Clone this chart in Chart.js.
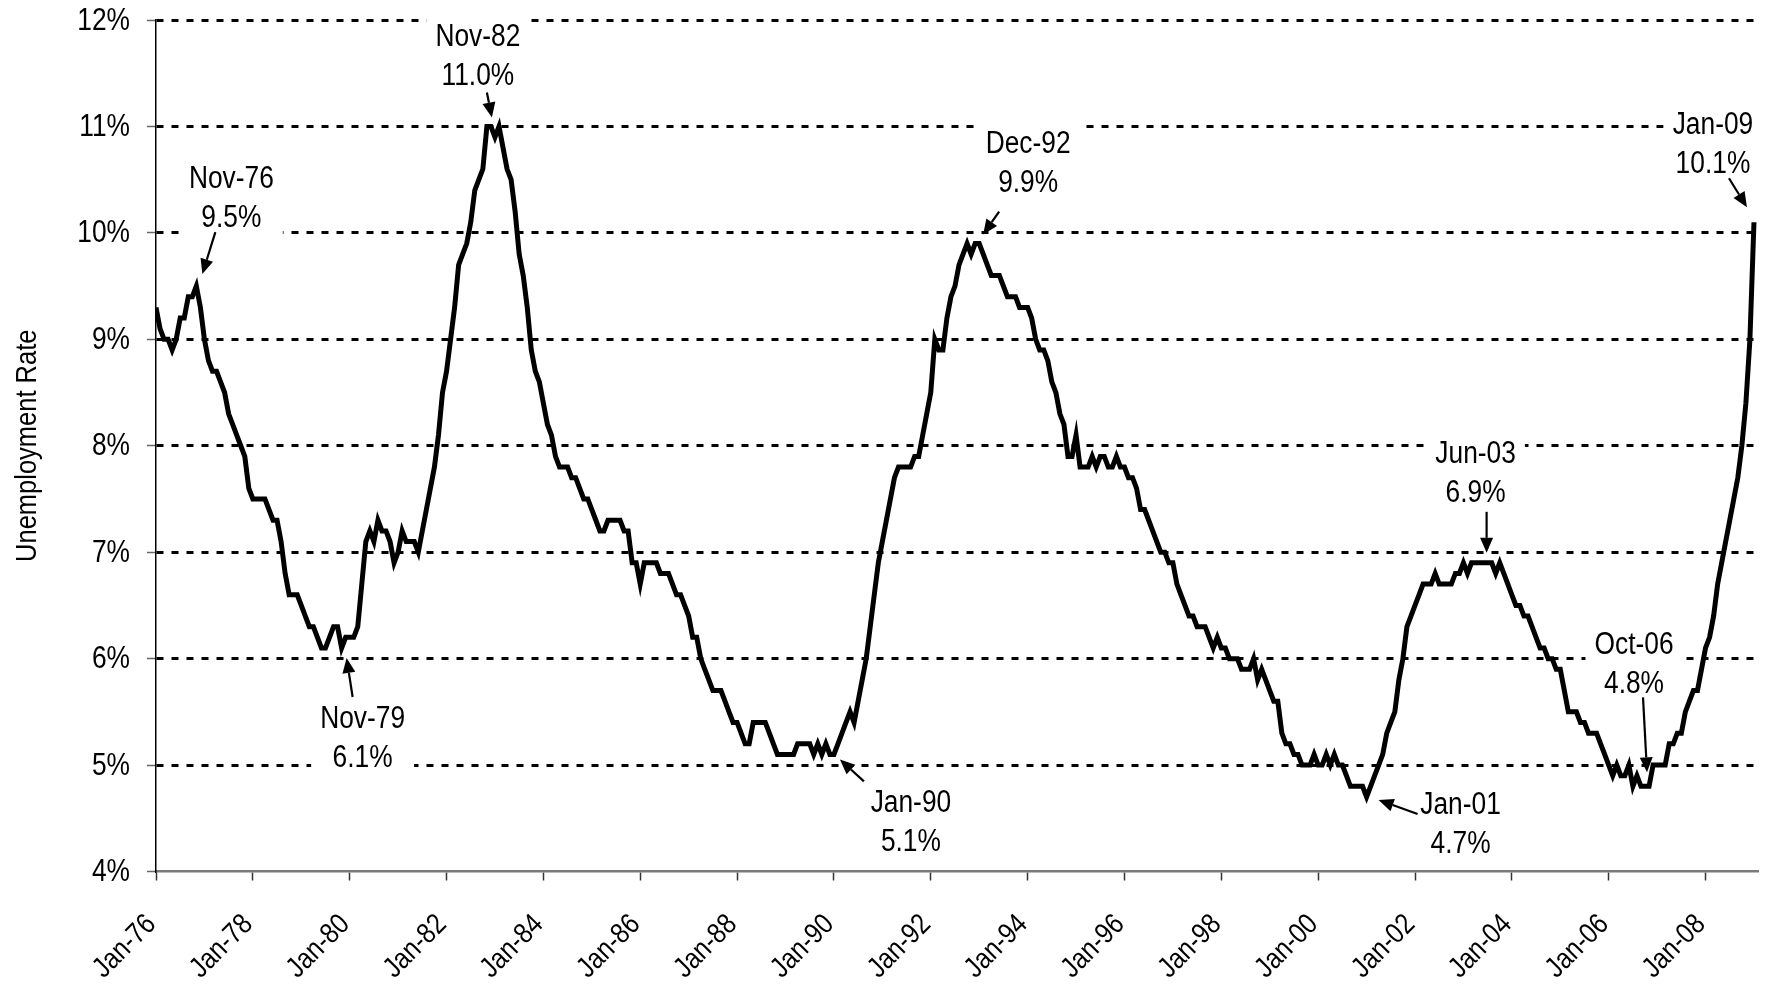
<!DOCTYPE html>
<html>
<head>
<meta charset="utf-8">
<script src="https://cdn.jsdelivr.net/npm/chart.js@4.4.1/dist/chart.umd.min.js"></script>
<style>
  html, body { margin: 0; padding: 0; background: #fff; }
</style>
</head>
<body>
<canvas id="chart" width="1767" height="985"></canvas>
<script>
// monthly unemployment rate, Jan-76 .. Jan-09 (one row per year)
const rate = [
  9.3, 9.1, 9.0, 9.0, 8.9, 9.0, 9.2, 9.2, 9.4, 9.4, 9.5, 9.3,       // 1976
  9.0, 8.8, 8.7, 8.7, 8.6, 8.5, 8.3, 8.2, 8.1, 8.0, 7.9, 7.6,       // 1977
  7.5, 7.5, 7.5, 7.5, 7.4, 7.3, 7.3, 7.1, 6.8, 6.6, 6.6, 6.6,       // 1978
  6.5, 6.4, 6.3, 6.3, 6.2, 6.1, 6.1, 6.2, 6.3, 6.3, 6.1, 6.2,       // 1979
  6.2, 6.2, 6.3, 6.7, 7.1, 7.2, 7.1, 7.3, 7.2, 7.2, 7.1, 6.9,       // 1980
  7.0, 7.2, 7.1, 7.1, 7.1, 7.0, 7.2, 7.4, 7.6, 7.8, 8.1, 8.5,       // 1981
  8.7, 9.0, 9.3, 9.7, 9.8, 9.9, 10.1, 10.4, 10.5, 10.6, 11.0, 11.0, // 1982
  10.9, 11.0, 10.8, 10.6, 10.5, 10.2, 9.8, 9.6, 9.3, 8.9, 8.7, 8.6, // 1983
  8.4, 8.2, 8.1, 7.9, 7.8, 7.8, 7.8, 7.7, 7.7, 7.6, 7.5, 7.5,       // 1984
  7.4, 7.3, 7.2, 7.2, 7.3, 7.3, 7.3, 7.3, 7.2, 7.2, 6.9, 6.9,       // 1985
  6.7, 6.9, 6.9, 6.9, 6.9, 6.8, 6.8, 6.8, 6.7, 6.6, 6.6, 6.5,       // 1986
  6.4, 6.2, 6.2, 6.0, 5.9, 5.8, 5.7, 5.7, 5.7, 5.6, 5.5, 5.4,       // 1987
  5.4, 5.3, 5.2, 5.2, 5.4, 5.4, 5.4, 5.4, 5.3, 5.2, 5.1, 5.1,       // 1988
  5.1, 5.1, 5.1, 5.2, 5.2, 5.2, 5.2, 5.1, 5.2, 5.1, 5.2, 5.1,       // 1989
  5.1, 5.2, 5.3, 5.4, 5.5, 5.4, 5.6, 5.8, 6.0, 6.3, 6.6, 6.9,       // 1990
  7.1, 7.3, 7.5, 7.7, 7.8, 7.8, 7.8, 7.8, 7.9, 7.9, 8.1, 8.3,       // 1991
  8.5, 9.0, 8.9, 8.9, 9.2, 9.4, 9.5, 9.7, 9.8, 9.9, 9.8, 9.9,       // 1992
  9.9, 9.8, 9.7, 9.6, 9.6, 9.6, 9.5, 9.4, 9.4, 9.4, 9.3, 9.3,       // 1993
  9.3, 9.2, 9.0, 8.9, 8.9, 8.8, 8.6, 8.5, 8.3, 8.2, 7.9, 7.9,       // 1994
  8.1, 7.8, 7.8, 7.8, 7.9, 7.8, 7.9, 7.9, 7.8, 7.8, 7.9, 7.8,       // 1995
  7.8, 7.7, 7.7, 7.6, 7.4, 7.4, 7.3, 7.2, 7.1, 7.0, 7.0, 6.9,       // 1996
  6.9, 6.7, 6.6, 6.5, 6.4, 6.4, 6.3, 6.3, 6.3, 6.2, 6.1, 6.2,       // 1997
  6.1, 6.1, 6.0, 6.0, 6.0, 5.9, 5.9, 5.9, 6.0, 5.8, 5.9, 5.8,       // 1998
  5.7, 5.6, 5.6, 5.3, 5.2, 5.2, 5.1, 5.1, 5.0, 5.0, 5.0, 5.1,       // 1999
  5.0, 5.0, 5.1, 5.0, 5.1, 5.0, 5.0, 4.9, 4.8, 4.8, 4.8, 4.8,       // 2000
  4.7, 4.8, 4.9, 5.0, 5.1, 5.3, 5.4, 5.5, 5.8, 6.0, 6.3, 6.4,       // 2001
  6.5, 6.6, 6.7, 6.7, 6.7, 6.8, 6.7, 6.7, 6.7, 6.7, 6.8, 6.8,       // 2002
  6.9, 6.8, 6.9, 6.9, 6.9, 6.9, 6.9, 6.9, 6.8, 6.9, 6.8, 6.7,       // 2003
  6.6, 6.5, 6.5, 6.4, 6.4, 6.3, 6.2, 6.1, 6.1, 6.0, 6.0, 5.9,       // 2004
  5.9, 5.7, 5.5, 5.5, 5.5, 5.4, 5.4, 5.3, 5.3, 5.3, 5.2, 5.1,       // 2005
  5.0, 4.9, 5.0, 4.9, 4.9, 5.0, 4.8, 4.9, 4.8, 4.8, 4.8, 5.0,       // 2006
  5.0, 5.0, 5.0, 5.2, 5.2, 5.3, 5.3, 5.5, 5.6, 5.7, 5.7, 5.9,       // 2007
  6.1, 6.2, 6.4, 6.7, 6.9, 7.1, 7.3, 7.5, 7.7, 8.0, 8.4, 9.0,       // 2008
  10.1                                                              // 2009
];

const monthNames = ['Jan', 'Feb', 'Mar', 'Apr', 'May', 'Jun', 'Jul', 'Aug', 'Sep', 'Oct', 'Nov', 'Dec'];
const years = ['76', '77', '78', '79', '80', '81', '82', '83', '84', '85', '86', '87', '88', '89', '90', '91', '92',
               '93', '94', '95', '96', '97', '98', '99', '00', '01', '02', '03', '04', '05', '06', '07', '08', '09'];

// month labels, one per value
const months = [];
years.forEach(yy => monthNames.forEach(mm => months.push(mm + '-' + yy)));
months.length = rate.length;

// y axis tick values
const yTicks = [4, 5, 6, 7, 8, 9, 10, 11, 12];
const yTitle = 'Unemployment Rate';

// labelled highs and lows
const calloutMonths = ['Nov-76', 'Nov-79', 'Nov-82', 'Jan-90', 'Dec-92', 'Jan-01', 'Jun-03', 'Oct-06', 'Jan-09'];
const calloutValues = [9.5, 6.1, 11.0, 5.1, 9.9, 4.7, 6.9, 4.8, 10.1];

// where each callout sits relative to its point (pixels)
const calloutLayout = [
  { tip: [6, -12], tail: [19, -54], text: [35, -107] },
  { tip: [5, 10], tail: [11, 49], text: [21, 71] },
  { tip: [5, -9], tail: [0, -34], text: [-9, -89] },
  { tip: [6, 5], tail: [30, 27], text: [77, 49] },
  { tip: [8, -9], tail: [24, -32], text: [53, -99] },
  { tip: [12, 3], tail: [51, 17], text: [94, 8] },
  { tip: [3, -10], tail: [3, -51], text: [-8, -108] },
  { tip: [2, -14], tail: [-2, -89], text: [-11, -141] },
  { tip: [-7, -15], tail: [-25, -44], text: [-41, -97] }
];

// Liberation Sans squeezed sideways to look like the condensed face of the original
const FONT = '"Liberation Sans", Arial, sans-serif';
const NARROW = 0.85;
Chart.defaults.font.family = FONT;
Chart.defaults.color = '#000';

function narrowText(ctx, text, x, y, align, rot, size) {
  ctx.save();
  ctx.translate(x, y);
  if (rot) ctx.rotate(rot);
  ctx.scale(NARROW, 1);
  ctx.font = size + 'px ' + FONT;
  ctx.fillStyle = '#000';
  ctx.textAlign = align;
  ctx.textBaseline = 'middle';
  ctx.fillText(text, 0, 0);
  ctx.restore();
}

function drawArrow(ctx, x0, y0, x1, y1) {
  const ang = Math.atan2(y1 - y0, x1 - x0);
  const head = 15, half = 6.5;
  const bx = x1 - head * Math.cos(ang), by = y1 - head * Math.sin(ang);
  ctx.strokeStyle = '#000';
  ctx.lineWidth = 2.2;
  ctx.beginPath();
  ctx.moveTo(x0, y0);
  ctx.lineTo(bx, by);
  ctx.stroke();
  ctx.fillStyle = '#000';
  ctx.beginPath();
  ctx.moveTo(x1, y1);
  ctx.lineTo(bx + half * Math.sin(ang), by - half * Math.cos(ang));
  ctx.lineTo(bx - half * Math.sin(ang), by + half * Math.cos(ang));
  ctx.closePath();
  ctx.fill();
}

// axis labels and title, placed from the scales
const axisTextPlugin = {
  id: 'axisText',
  afterDraw(chart) {
    const { ctx, chartArea, scales: { x, y } } = chart;
    yTicks.forEach(v => narrowText(ctx, v + '%', x.left - 26, y.getPixelForValue(v) + 1, 'right', 0, 31));
    x.ticks.forEach(t => narrowText(ctx, months[t.value], x.getPixelForValue(t.value) - 4.5, x.top + 48.5,
      'right', -Math.PI / 4, 29));
    narrowText(ctx, yTitle, 28, (chartArea.top + chartArea.bottom) / 2, 'center', -Math.PI / 2, 30);
  }
};

const calloutPlugin = {
  id: 'callouts',
  afterDatasetsDraw(chart) {
    const { ctx, scales: { x, y } } = chart;
    ctx.save();
    ctx.font = '31px ' + FONT;
    calloutMonths.forEach((m, i) => {
      const px = x.getPixelForValue(months.indexOf(m));
      const py = y.getPixelForValue(calloutValues[i]);
      const L = calloutLayout[i];
      const line1 = m;
      const line2 = calloutValues[i].toFixed(1) + '%';
      const tx = px + L.text[0], ty = py + L.text[1];
      const w = Math.max(ctx.measureText(line1).width, ctx.measureText(line2).width) * NARROW + 18;
      ctx.fillStyle = '#fff';
      ctx.fillRect(tx - w / 2, ty - 20, w, 79);
      narrowText(ctx, line1, tx, ty, 'center', 0, 31);
      narrowText(ctx, line2, tx, ty + 39, 'center', 0, 31);
      drawArrow(ctx, px + L.tail[0], py + L.tail[1], px + L.tip[0], py + L.tip[1]);
    });
    ctx.restore();
  }
};

new Chart(document.getElementById('chart'), {
  type: 'line',
  data: {
    datasets: [{
      data: rate.map((v, i) => ({ x: i, y: v })),
      borderColor: '#000',
      borderWidth: 5,
      pointRadius: 0,
      tension: 0,
      fill: false
    }]
  },
  options: {
    responsive: false,
    animation: false,
    events: [],
    layout: { padding: { top: 20, right: 9, left: 0, bottom: 0 } },
    plugins: { legend: { display: false }, tooltip: { enabled: false } },
    scales: {
      x: {
        type: 'linear',
        min: 0,
        max: 397,
        afterFit: s => { s.height = 113.5; },
        afterBuildTicks: s => { s.ticks = s.ticks.filter(t => t.value % 24 === 0); },
        grid: { drawOnChartArea: false, drawTicks: true, tickLength: 9, tickColor: '#333', tickWidth: 1.5 },
        border: { display: true, color: '#7a7a7a', width: 2.5 },
        ticks: { display: false, stepSize: 24, includeBounds: false, autoSkip: false }
      },
      y: {
        min: 4,
        max: 12,
        afterFit: s => { s.width = 156; },
        afterBuildTicks: s => { s.ticks = yTicks.map(v => ({ value: v })); },
        grid: {
          color: c => (c.tick && c.tick.value === 4 ? 'rgba(0,0,0,0)' : '#000'),
          lineWidth: 3,
          tickLength: 9,
          tickColor: '#666',
          tickWidth: 1.5
        },
        border: { display: true, color: '#000', width: 1.5, dash: [7, 8] },
        ticks: { display: false }
      }
    }
  },
  plugins: [calloutPlugin, axisTextPlugin]
});
</script>
</body>
</html>
